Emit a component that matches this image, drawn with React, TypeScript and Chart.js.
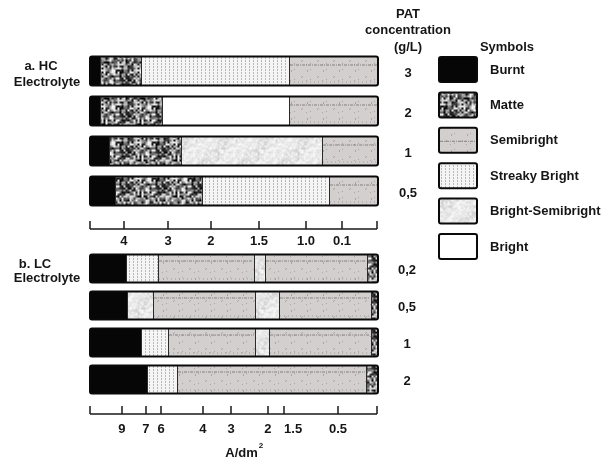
import React, { useEffect, useRef } from "react";
import { Chart, registerables } from "chart.js";
Chart.register(...registerables);

// Position along the Hull-cell panel: 0 = high current density end, 100 = low end
const hcConcentrations = ["3", "2", "1", "0,5"];
const hcRowTypes = [
  ["Burnt", "Matte", "Streaky Bright", "Semibright"],
  ["Burnt", "Matte", "Bright", "Semibright"],
  ["Burnt", "Matte", "Bright-Semibright", "Semibright"],
  ["Burnt", "Matte", "Streaky Bright", "Semibright"],
];
const hcRowEnds = [
  [3.5, 17.7, 69.1, 100],
  [3.5, 25.0, 69.1, 100],
  [6.6, 31.6, 80.6, 100],
  [8.7, 38.9, 83.0, 100],
];
const hcTickLabels = ["4", "3", "2", "1.5", "1.0", "0.1"];
const hcTickPositions = [11.8, 27.1, 42.0, 58.7, 75.0, 87.5];

const lcConcentrations = ["0,2", "0,5", "1", "2"];
const lcRowTypes = [
  ["Burnt", "Streaky Bright", "Semibright", "Bright-Semibright", "Semibright", "Matte"],
  ["Burnt", "Bright-Semibright", "Semibright", "Bright-Semibright", "Semibright", "Matte"],
  ["Burnt", "Streaky Bright", "Semibright", "Bright-Semibright", "Semibright", "Matte"],
  ["Burnt", "Streaky Bright", "Semibright", "Matte"],
];
const lcRowEnds = [
  [12.5, 23.6, 56.9, 60.8, 96.2, 100],
  [12.8, 21.9, 57.3, 65.6, 97.6, 100],
  [17.7, 27.1, 57.3, 62.2, 97.6, 100],
  [19.8, 30.2, 95.8, 100],
];
const lcTickLabels = ["9", "7", "6", "4", "3", "2", "1.5", "0.5"];
const lcTickPositions = [11.1, 19.4, 24.7, 39.2, 49.0, 61.8, 67.4, 86.1];

const symbolNames = ["Burnt", "Matte", "Semibright", "Streaky Bright", "Bright-Semibright", "Bright"];

const FONT = '"Liberation Sans", Arial, sans-serif';

function hash(i: number, j: number, s: number) {
  const v = Math.sin(i * 12.9898 + j * 78.233 + s * 37.719) * 43758.5453;
  return v - Math.floor(v);
}

function makeTile(w: number, h: number, draw: (g: CanvasRenderingContext2D) => void) {
  const c = document.createElement("canvas");
  c.width = w;
  c.height = h;
  const g = c.getContext("2d")!;
  draw(g);
  return c;
}

// periodic smooth value noise in a tile
function noiseTile(size: number, cell: number, seed: number, toGray: (v: number, x: number, y: number) => number) {
  const G = size / cell;
  return makeTile(size, size, (g) => {
    const img = g.createImageData(size, size);
    for (let y = 0; y < size; y++)
      for (let x = 0; x < size; x++) {
        const fx = x / cell, fy = y / cell;
        const i0 = Math.floor(fx), j0 = Math.floor(fy);
        const tx = fx - i0, ty = fy - j0;
        const sx = tx * tx * (3 - 2 * tx), sy = ty * ty * (3 - 2 * ty);
        const a = hash(i0 % G, j0 % G, seed), b = hash((i0 + 1) % G, j0 % G, seed);
        const c = hash(i0 % G, (j0 + 1) % G, seed), d = hash((i0 + 1) % G, (j0 + 1) % G, seed);
        const v = (a * (1 - sx) + b * sx) * (1 - sy) + (c * (1 - sx) + d * sx) * sy;
        const l = Math.max(0, Math.min(255, Math.round(toGray(v, x, y))));
        const k = (y * size + x) * 4;
        img.data[k] = l;
        img.data[k + 1] = l;
        img.data[k + 2] = l;
        img.data[k + 3] = 255;
      }
    g.putImageData(img, 0, 0);
  });
}

function buildFills(ctx: CanvasRenderingContext2D): Record<string, any> {
  const matte = noiseTile(36, 2, 1, (v) => 35 + (v - 0.15) * 260);
  const streaky = makeTile(4, 3, (g) => {
    g.fillStyle = "#f5f5f5";
    g.fillRect(0, 0, 4, 3);
    g.fillStyle = "#b8b8b8";
    g.fillRect(1, 0, 1, 2);
  });
  const semi = makeTile(16, 16, (g) => {
    g.fillStyle = "#d3cfcf";
    g.fillRect(0, 0, 16, 16);
    for (let i = 0; i < 16; i++)
      for (let j = 0; j < 16; j++) {
        if (hash(i, j, 3) > 0.95) {
          g.fillStyle = "#aaa4a4";
          g.fillRect(i, j, 1, 1);
        }
      }
  });
  const brSemi = noiseTile(40, 2, 7, (v, x, y) => {
    const band = ((x + y) % 40) < 18 ? 16 : 0;
    return 253 - v * (26 + band) - hash(x, y, 9) * 10;
  });
  return {
    Burnt: "#060606",
    Matte: ctx.createPattern(matte, "repeat"),
    Semibright: ctx.createPattern(semi, "repeat"),
    "Streaky Bright": ctx.createPattern(streaky, "repeat"),
    "Bright-Semibright": ctx.createPattern(brSemi, "repeat"),
    Bright: "#ffffff",
  };
}

function text(ctx: CanvasRenderingContext2D, s: string, x: number, y: number, align: CanvasTextAlign = "center", size = 13) {
  ctx.font = `bold ${size}px ${FONT}`;
  ctx.fillStyle = "#151515";
  ctx.textAlign = align;
  ctx.textBaseline = "middle";
  ctx.fillText(s, x, y);
}

function roundRect(ctx: CanvasRenderingContext2D, x: number, y: number, w: number, h: number, r: number) {
  ctx.beginPath();
  ctx.moveTo(x + r, y);
  ctx.lineTo(x + w - r, y);
  ctx.quadraticCurveTo(x + w, y, x + w, y + r);
  ctx.lineTo(x + w, y + h - r);
  ctx.quadraticCurveTo(x + w, y + h, x + w - r, y + h);
  ctx.lineTo(x + r, y + h);
  ctx.quadraticCurveTo(x, y + h, x, y + h - r);
  ctx.lineTo(x, y + r);
  ctx.quadraticCurveTo(x, y, x + r, y);
  ctx.closePath();
}

function semiLines(ctx: CanvasRenderingContext2D, x0: number, x1: number, top: number, bottom: number, offTop: number) {
  ctx.save();
  ctx.strokeStyle = "#85807f";
  ctx.lineWidth = 1;
  ctx.setLineDash([3, 1, 1, 1]);
  ctx.beginPath();
  ctx.moveTo(x0 + 1, top + offTop + 0.5);
  ctx.lineTo(x1 - 1, top + offTop + 0.5);
  ctx.stroke();
  ctx.strokeStyle = "#9f9a9a";
  ctx.setLineDash([1, 3]);
  ctx.beginPath();
  ctx.moveTo(x0 + 1, bottom - 3.5);
  ctx.lineTo(x1 - 1, bottom - 3.5);
  ctx.stroke();
  ctx.restore();
}

function buildDatasets(rowTypes: string[][], rowEnds: number[][], fills: Record<string, any>, thickness: number) {
  const slots = Math.max(...rowEnds.map((r) => r.length));
  const ds: any[] = [];
  for (let s = 0; s < slots; s++) {
    ds.push({
      label: "segment " + (s + 1),
      data: rowEnds.map((ends) => (s < ends.length ? [s === 0 ? 0 : ends[s - 1], ends[s]] : null)),
      backgroundColor: rowTypes.map((t) => (s < t.length ? fills[t[s]] : "#fff")),
      segTypes: rowTypes.map((t) => t[s]),
      borderWidth: 0,
      barThickness: thickness,
      grouped: false,
    });
  }
  return ds;
}

function barDecor(rowTypes: string[][], semiOff: number) {
  return {
    id: "barDecor",
    afterDatasetsDraw(chart: any) {
      const ctx: CanvasRenderingContext2D = chart.ctx;
      const n = rowTypes.length;
      for (let r = 0; r < n; r++) {
        let left = Infinity, right = -Infinity, top = 0, bottom = 0;
        chart.data.datasets.forEach((d: any, di: number) => {
          if (!d.data[r]) return;
          const el = chart.getDatasetMeta(di).data[r];
          const x0 = Math.min(el.x, el.base), x1 = Math.max(el.x, el.base);
          top = el.y - el.height / 2;
          bottom = el.y + el.height / 2;
          left = Math.min(left, x0);
          right = Math.max(right, x1);
          if (d.segTypes[r] === "Semibright") semiLines(ctx, x0, x1, top, bottom, semiOff);
          if (di > 0) {
            ctx.save();
            ctx.strokeStyle = "#2a2a2a";
            ctx.lineWidth = 1;
            ctx.beginPath();
            ctx.moveTo(Math.round(x0) + 0.5, top);
            ctx.lineTo(Math.round(x0) + 0.5, bottom);
            ctx.stroke();
            ctx.restore();
          }
        });
        ctx.save();
        ctx.strokeStyle = "#0a0a0a";
        ctx.lineWidth = 2;
        roundRect(ctx, left, top, right - left, bottom - top, 2);
        ctx.stroke();
        ctx.restore();
      }
    },
  };
}

function axisDecor(labels: string[], positions: number[], concs: string[], axisOff: number, labelOff: number, concX: number, shiftLabel: string | null, extra: (chart: any) => void) {
  return {
    id: "axisDecor",
    afterDraw(chart: any) {
      const ctx: CanvasRenderingContext2D = chart.ctx;
      const xs = chart.scales.x;
      const ys = chart.scales.y;
      const ay = chart.chartArea.bottom + axisOff;
      const xa = xs.getPixelForValue(0);
      const xb = xs.getPixelForValue(100) - 1;
      ctx.save();
      ctx.strokeStyle = "#1a1a1a";
      ctx.lineWidth = 1.5;
      ctx.beginPath();
      ctx.moveTo(xa, ay);
      ctx.lineTo(xb, ay);
      [xa, xb, ...positions.map((p) => xs.getPixelForValue(p))].forEach((px) => {
        ctx.moveTo(Math.round(px), ay);
        ctx.lineTo(Math.round(px), ay - 8);
      });
      ctx.stroke();
      ctx.restore();
      positions.forEach((p, i) => {
        const lx = xs.getPixelForValue(p) + (labels[i] === shiftLabel ? 9 : 0);
        text(ctx, labels[i], lx, ay + labelOff);
      });
      concs.forEach((c, i) => text(ctx, c, concX, ys.getPixelForValue(i) + 2));
      extra(chart);
    },
  };
}

export default function App() {
  const hcRef = useRef<HTMLCanvasElement>(null);
  const lcRef = useRef<HTMLCanvasElement>(null);

  useEffect(() => {
    const hcCtx = hcRef.current!.getContext("2d")!;
    const lcCtx = lcRef.current!.getContext("2d")!;
    const fills = buildFills(hcCtx);

    const commonOptions = (padding: any) => ({
      responsive: false,
      animation: false as const,
      indexAxis: "y" as const,
      events: [],
      layout: { padding },
      plugins: { legend: { display: false }, tooltip: { enabled: false } },
      scales: {
        x: { type: "linear" as const, min: 0, max: 100, display: false },
        y: { type: "category" as const, display: false },
      },
    });

    const hcExtra = (chart: any) => {
      const ctx: CanvasRenderingContext2D = chart.ctx;
      const ys = chart.scales.y;
      const r0 = ys.getPixelForValue(0);
      text(ctx, "a. HC", 41, r0 - 5);
      text(ctx, "Electrolyte", 47, r0 + 11);
      text(ctx, "PAT", 408, 14);
      text(ctx, "concentration", 408, 30);
      text(ctx, "(g/L)", 408, 47);
      text(ctx, "Symbols", 507, 47);
      symbolNames.forEach((name, i) => {
        const top = 57 + i * 35.4;
        ctx.save();
        ctx.fillStyle = fills[name];
        ctx.fillRect(439, top, 38, 25);
        if (name === "Semibright") {
          ctx.strokeStyle = "#85807f";
          ctx.setLineDash([3, 1, 1, 1]);
          ctx.lineWidth = 1;
          ctx.beginPath();
          ctx.moveTo(440, top + 13.5);
          ctx.lineTo(476, top + 13.5);
          ctx.stroke();
          ctx.setLineDash([]);
        }
        ctx.strokeStyle = "#0a0a0a";
        ctx.lineWidth = 2;
        roundRect(ctx, 439, top, 38, 25, 2);
        ctx.stroke();
        ctx.restore();
        text(ctx, name, 490, top + 13, "left");
      });
    };

    const lcExtra = (chart: any) => {
      const ctx: CanvasRenderingContext2D = chart.ctx;
      const ys = chart.scales.y;
      const r0 = ys.getPixelForValue(0);
      text(ctx, "b. LC", 35, r0 - 4);
      text(ctx, "Electrolyte", 47, r0 + 10);
      const xs = chart.scales.x;
      const x0 = xs.getPixelForValue(47);
      ctx.save();
      ctx.font = `bold 13px ${FONT}`;
      const w = ctx.measureText("A/dm").width;
      ctx.restore();
      text(ctx, "A/dm", x0, 453, "left");
      text(ctx, "2", x0 + w + 1, 446, "left", 8);
    };

    const hcChart = new Chart(hcCtx, {
      type: "bar",
      data: { labels: hcConcentrations, datasets: buildDatasets(hcRowTypes, hcRowEnds, fills, 29) },
      options: commonOptions({ left: 90, right: 236, top: 51, bottom: 251 }) as any,
      plugins: [barDecor(hcRowTypes, 8), axisDecor(hcTickLabels, hcTickPositions, hcConcentrations, 18, 12, 408, null, hcExtra)],
    });

    const lcChart = new Chart(lcCtx, {
      type: "bar",
      data: { labels: lcConcentrations, datasets: buildDatasets(lcRowTypes, lcRowEnds, fills, 28) },
      options: commonOptions({ left: 90, right: 236, top: 250, bottom: 64 }) as any,
      plugins: [barDecor(lcRowTypes, 6), axisDecor(lcTickLabels, lcTickPositions, lcConcentrations, 16, 15, 407, "1.5", lcExtra)],
    });

    return () => {
      hcChart.destroy();
      lcChart.destroy();
    };
  }, []);

  const cs: React.CSSProperties = { position: "absolute", left: 0, top: 0, width: 614, height: 462 };
  return (
    <div style={{ position: "fixed", left: 0, top: 0, width: 614, height: 462, background: "#fff" }}>
      <canvas ref={hcRef} width={614} height={462} style={cs} />
      <canvas ref={lcRef} width={614} height={462} style={cs} />
    </div>
  );
}
